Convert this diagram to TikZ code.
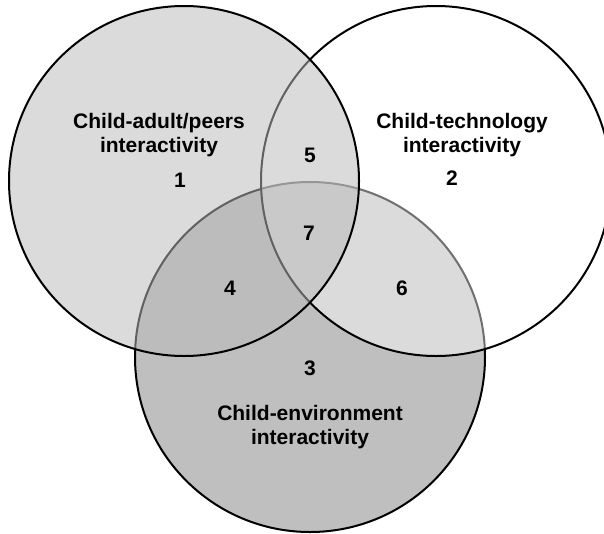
\documentclass[tikz,border=0pt]{standalone}
\usepackage{fontspec}
\setmainfont{Liberation Sans}
\definecolor{adultgray}{gray}{0.73}
\definecolor{envgray}{gray}{0.75}
\tikzset{
	ring/.style={line width=2pt, draw=black},
	areatext/.style={font=\bfseries\fontsize{21}{24}\selectfont, align=center, inner sep=0pt}
}

\begin{document}
\begin{tikzpicture}[x=1pt,y=-1pt]
			\clip (0,0) rectangle (604,533);
			\fill[white] (0,0) rectangle (604,533);
			\draw[ring, fill=envgray] (310,357) circle[radius=175pt];
			\draw[ring, fill=white, fill opacity=0.44] (436,181) circle[radius=175pt];
			\draw[ring, fill=adultgray, fill opacity=0.52] (184,181) circle[radius=175pt];
			\node[areatext] (adult) at (159,135) {Child-adult/peers\\interactivity};
			\node[areatext] (tech) at (462,135) {Child-technology\\interactivity};
			\node[areatext] (env) at (310,427) {Child-environment\\interactivity};
			\node[areatext] (one) at (180,180) {1};
			\node[areatext] (two) at (452,178) {2};
			\node[areatext] (three) at (310,368) {3};
			\node[areatext] (four) at (230,288) {4};
			\node[areatext] (five) at (310,155) {5};
			\node[areatext] (six) at (402,288) {6};
			\node[areatext] (seven) at (309,233) {7};
\end{tikzpicture}
\end{document}
